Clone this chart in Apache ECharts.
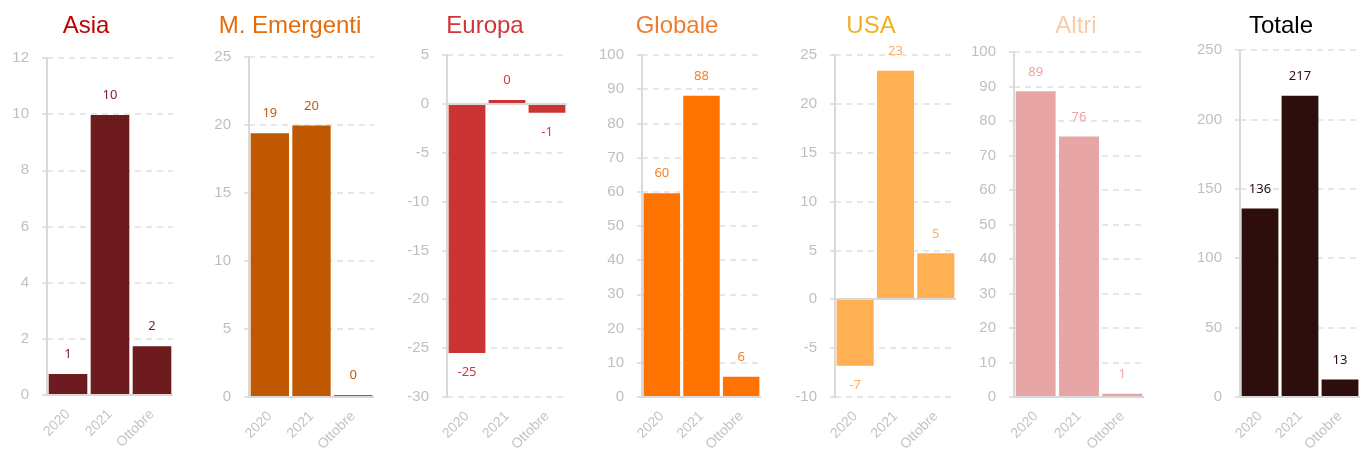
<!DOCTYPE html>
<html>
<head>
<meta charset="utf-8">
<script src="https://cdn.jsdelivr.net/npm/echarts@6/dist/echarts.min.js"></script>
<style>
  html, body { margin: 0; padding: 0; background: #fff; }
  #chart { width: 1360px; height: 454px; }
</style>
</head>
<body>
<div id="chart"></div>
<script>
// categorie asse x
var categories = ['2020', '2021', 'Ottobre'];
// titoli dei pannelli
var titles = ['Asia', 'M. Emergenti', 'Europa', 'Globale', 'USA', 'Altri', 'Totale'];
// valori per pannello
var asiaValues = [0.75, 9.97, 1.74];
var emergentiValues = [19.4, 19.96, 0.15];
var europaValues = [-25.5, 0.4, -0.9];
var globaleValues = [59.6, 88.1, 5.9];
var usaValues = [-6.8, 23.4, 4.7];
var altriValues = [88.6, 75.5, 0.9];
var totaleValues = [135.8, 217.1, 12.6];
// scale asse y
var yMin = [0, 0, -30, 0, -10, 0, 0];
var yMax = [12, 25, 5, 100, 25, 100, 250];
var yStep = [2, 5, 5, 10, 5, 10, 50];

var allValues = [asiaValues, emergentiValues, europaValues, globaleValues, usaValues, altriValues, totaleValues];

// colori
var barColors = ['#6E1B1F', '#C05800', '#CC3333', '#FF7400', '#FFB052', '#E8A5A6', '#2E0D0D'];
var labelColors = ['#7B1F23', '#C55A11', '#D13B3B', '#F58025', '#FFB052', '#F0A4A4', '#2E0D0D'];
var titleColors = ['#C00000', '#E46C0A', '#D13438', '#ED7D31', '#F2B01E', '#F8CBAD', '#000000'];

// posizione dei pannelli: [sinistra, alto, larghezza, zero/fondo]
var panels = [
    [47, 58, 126, 395],
    [249, 57, 125, 398],
    [447, 55, 120, 397],
    [642, 55, 119, 398],
    [835, 55, 121, 402],
    [1014, 52, 130, 400],
    [1240, 50, 128, 400]
];
var titleCenters = [86, 290, 485, 677, 871, 1076, 1281];

var grid = [], xAxis = [], yAxis = [], series = [], graphic = [];

for (let i = 0; i < 7; i++) {
    var p = panels[i];
    grid.push({ left: p[0], top: p[1], width: p[2], height: p[3] - p[1] });
    xAxis.push({
        type: 'category',
        gridIndex: i,
        data: categories,
        axisLine: { show: false, onZero: false },
        axisTick: { show: false },
        axisLabel: {
            rotate: 45,
            color: '#C4C4C4',
            fontSize: 14,
            fontFamily: 'Liberation Sans',
            margin: 17,
            interval: 0
        }
    });
    yAxis.push({
        type: 'value',
        gridIndex: i,
        min: yMin[i],
        max: yMax[i],
        interval: yStep[i],
        axisLine: { show: true, lineStyle: { color: '#D9D9D9', width: 2 } },
        axisTick: { show: true, length: 5, lineStyle: { color: '#D9D9D9', width: 1.5 } },
        axisLabel: {
            color: '#BFBFBF',
            fontSize: 15,
            fontFamily: 'Liberation Sans',
            margin: 18
        },
        splitLine: { show: true, lineStyle: { color: '#E0E0E0', width: 1.5, type: [6, 5] } }
    });
    series.push({
        type: 'bar',
        xAxisIndex: i,
        yAxisIndex: i,
        barCategoryGap: '8%',
        data: allValues[i].map(function (v) {
            return { value: v, label: { position: v < 0 ? 'bottom' : 'top' } };
        }),
        itemStyle: { color: barColors[i] },
        label: {
            show: true,
            distance: 13,
            color: labelColors[i],
            fontSize: 13,
            fontFamily: 'Noto Sans',
            formatter: function (d) { return Math.round(d.value); }
        },
        markLine: {
            silent: true,
            symbol: 'none',
            label: { show: false },
            lineStyle: { color: '#D9D9D9', width: 2, type: 'solid' },
            data: [{ yAxis: 0 }]
        }
    });
    graphic.push({
        type: 'text',
        x: titleCenters[i],
        y: 26,
        style: {
            text: titles[i],
            fill: titleColors[i],
            font: '24px "Liberation Sans"',
            textAlign: 'center',
            textVerticalAlign: 'middle'
        }
    });
}

var chart = echarts.init(document.getElementById('chart'));
chart.setOption({
    animation: false,
    grid: grid,
    xAxis: xAxis,
    yAxis: yAxis,
    series: series,
    graphic: graphic
});
</script>
</body>
</html>
